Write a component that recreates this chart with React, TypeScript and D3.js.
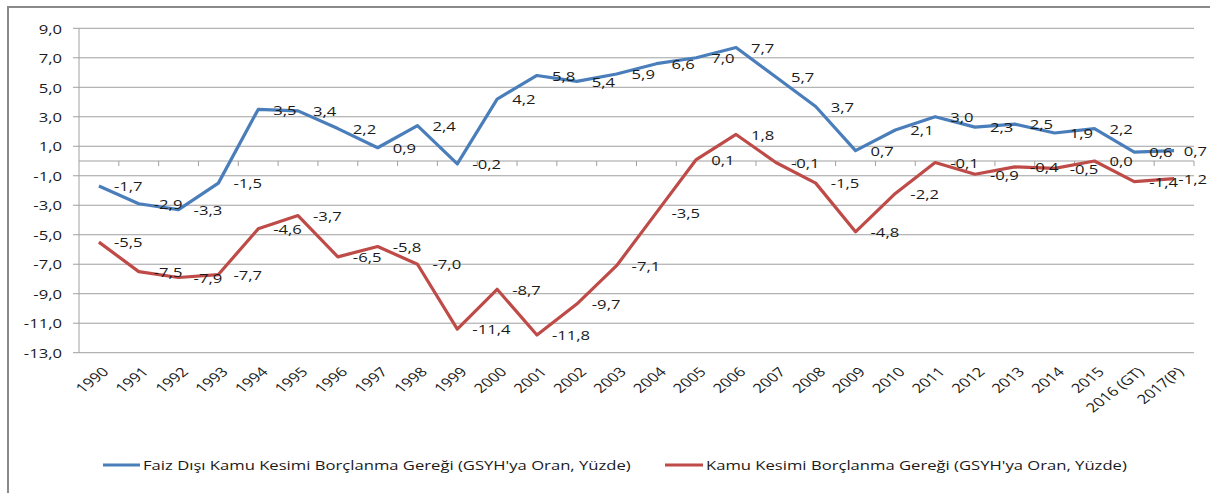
import React from "react";
import * as d3 from "d3";

const categories = ["1990","1991","1992","1993","1994","1995","1996","1997","1998","1999","2000","2001","2002","2003","2004","2005","2006","2007","2008","2009","2010","2011","2012","2013","2014","2015","2016 (GT)","2017(P)"];
const primaryBalance = [-1.7,-2.9,-3.3,-1.5,3.5,3.4,2.2,0.9,2.4,-0.2,4.2,5.8,5.4,5.9,6.6,7.0,7.7,5.7,3.7,0.7,2.1,3.0,2.3,2.5,1.9,2.2,0.6,0.7];
const borrowing = [-5.5,-7.5,-7.9,-7.7,-4.6,-3.7,-6.5,-5.8,-7.0,-11.4,-8.7,-11.8,-9.7,-7.1,-3.5,0.1,1.8,-0.1,-1.5,-4.8,-2.2,-0.1,-0.9,-0.4,-0.5,0.0,-1.4,-1.2];
const yTicks = [9,7,5,3,1,-1,-3,-5,-7,-9,-11,-13];
const seriesNames = ["Faiz Dışı Kamu Kesimi Borçlanma Gereği (GSYH'ya Oran, Yüzde)", "Kamu Kesimi Borçlanma Gereği (GSYH'ya Oran, Yüzde)"];
const seriesColors = ["#4A7EBB", "#BE4B48"];

const W = 1210, H = 493;
const S = 1.28; // horizontal text stretch
const FONT = "'Open Sans', 'Noto Sans', sans-serif";
const FS = 13;

const fmt = (v: number) => v.toFixed(1).replace(".", ",");
const charW = (c: string) => (c === "-" ? 0.322 : c === "," ? 0.254 : 0.572);
const textW = (s: string) => s.split("").reduce((a, c) => a + charW(c), 0) * FS * S;

function T({ x, y, anchor = "start", rotate, children, size = FS }: any) {
  const tr = `translate(${x},${y}) scale(${S},1)` + (rotate ? ` rotate(${rotate})` : "");
  return (
    <text transform={tr} textAnchor={anchor} dominantBaseline="central" fontFamily={FONT} fontSize={size} fill="#1a1a1a">
      {children}
    </text>
  );
}

export default function App() {
  const left = 79, right = 1194;
  const x = d3.scaleBand<string>().domain(categories).range([left, right]).padding(0);
  const y = d3.scaleLinear().domain([-13, 9]).range([352.7, 28.3]);
  const cx = (c: string) => (x(c) as number) + x.bandwidth() / 2;
  const line = d3.line<number>().x((_, i) => cx(categories[i])).y((d) => y(d));
  const series = [primaryBalance, borrowing];
  const y0 = y(0);

  return (
    <svg width={W} height={H} style={{ position: "absolute", left: 0, top: 0, background: "#fff" }}>
      <rect x={8} y={7} width={W} height={H} fill="#fff" stroke="#8a8a8a" strokeWidth={2} />
      {yTicks.map((t) => (
        <g key={t}>
          <line x1={left} x2={right} y1={y(t)} y2={y(t)} stroke="#a0a0a0" strokeWidth={1} />
          <line x1={left - 6} x2={left} y1={y(t)} y2={y(t)} stroke="#a0a0a0" strokeWidth={1} />
          <T x={62} y={y(t)} anchor="end">{fmt(t)}</T>
        </g>
      ))}
      <line x1={left} x2={left} y1={y(9)} y2={y(-13)} stroke="#a0a0a0" strokeWidth={1} />
      <line x1={left} x2={right} y1={y0} y2={y0} stroke="#a0a0a0" strokeWidth={1} />
      {categories.map((c, i) => (
        <line key={"tk" + i} x1={(x(c) as number) + x.bandwidth()} x2={(x(c) as number) + x.bandwidth()} y1={y0} y2={y0 + 5} stroke="#a0a0a0" strokeWidth={1} />
      ))}
      {categories.map((c, i) => (
        <T key={"xl" + i} x={cx(c) + 6} y={369} anchor="end" rotate={-45}>{c}</T>
      ))}
      {series.map((s, k) => (
        <path key={"s" + k} d={line(s) as string} fill="none" stroke={seriesColors[k]} strokeWidth={3.2} strokeLinejoin="round" />
      ))}
      {series.map((s, k) =>
        s.map((v, i) => {
          const label = fmt(v);
          const sx = cx(categories[i]) + 15;
          const over = sx + textW(label) > 1207;
          return (
            <T key={"dl" + k + "-" + i} x={over ? 1207 : sx} y={y(v)} anchor={over ? "end" : "start"}>{label}</T>
          );
        })
      )}
      <line x1={103} x2={140} y1={465} y2={465} stroke={seriesColors[0]} strokeWidth={3.2} />
      <T x={143} y={465}>{seriesNames[0]}</T>
      <line x1={665} x2={703} y1={465} y2={465} stroke={seriesColors[1]} strokeWidth={3.2} />
      <T x={706} y={465}>{seriesNames[1]}</T>
    </svg>
  );
}
